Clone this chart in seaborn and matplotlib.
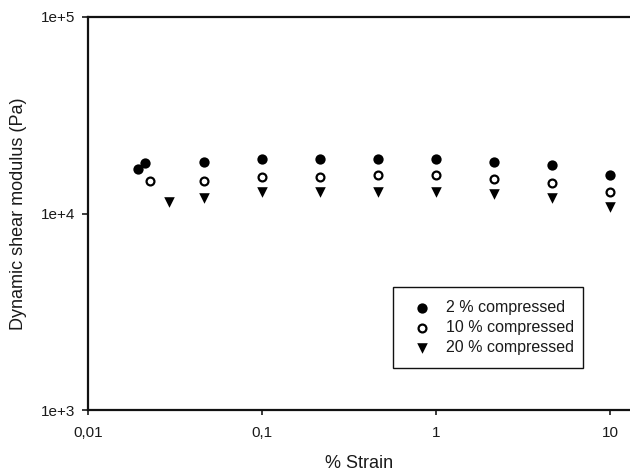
import matplotlib
matplotlib.use("Agg")
import matplotlib.pyplot as plt
import matplotlib.ticker as mticker
import seaborn as sns
import pandas as pd

# Strain sweep (% strain) and dynamic shear modulus (Pa) per compression level
strain_2 = [0.0194, 0.0213, 0.0464, 0.1, 0.215, 0.464, 1.0, 2.15, 4.64, 10.0]
modulus_2 = [16850, 18070, 18390, 18830, 18940, 19050, 19050, 18290, 17650, 15700]

strain_10 = [0.0227, 0.0464, 0.1, 0.215, 0.464, 1.0, 2.15, 4.64, 10.0]
modulus_10 = [14550, 14550, 15340, 15340, 15610, 15610, 15070, 14380, 12910]

strain_20 = [0.0292, 0.0464, 0.1, 0.215, 0.464, 1.0, 2.15, 4.64, 10.0]
modulus_20 = [11480, 12060, 12870, 12870, 12870, 12870, 12570, 11990, 10850]

series_labels = ["2 % compressed", "10 % compressed", "20 % compressed"]

x_ticks = [0.01, 0.1, 1, 10]
x_tick_labels = ["0,01", "0,1", "1", "10"]
y_ticks = [1e3, 1e4, 1e5]
y_tick_labels = ["1e+3", "1e+4", "1e+5"]

df = pd.concat([
    pd.DataFrame({"strain": strain_2, "modulus": modulus_2, "series": series_labels[0]}),
    pd.DataFrame({"strain": strain_10, "modulus": modulus_10, "series": series_labels[1]}),
    pd.DataFrame({"strain": strain_20, "modulus": modulus_20, "series": series_labels[2]}),
], ignore_index=True)

sns.set_style("ticks")
plt.rcParams["font.family"] = ["Liberation Sans", "DejaVu Sans"]
plt.rcParams["text.color"] = "#1a1a1a"
plt.rcParams["axes.labelcolor"] = "#1a1a1a"
plt.rcParams["xtick.color"] = "#1a1a1a"
plt.rcParams["ytick.color"] = "#1a1a1a"

fig = plt.figure(figsize=(6.3, 4.74), dpi=100)
ax = fig.add_axes([88 / 630, 1 - 410 / 474, 542 / 630, 393 / 474])

styles = {
    series_labels[0]: dict(marker="o", s=55, color="black", linewidth=0),
    series_labels[1]: dict(marker="o", s=32, color="white", edgecolor="black", linewidth=1.6),
    series_labels[2]: dict(marker="v", s=58, color="black", linewidth=0),
}
for name in series_labels:
    sub = df[df["series"] == name]
    sns.scatterplot(data=sub, x="strain", y="modulus", ax=ax, label=name,
                    zorder=3, **styles[name])

ax.set_xscale("log")
ax.set_yscale("log")
ax.set_xlim(0.01, 13.03)
ax.set_ylim(1e3, 1e5)

ax.xaxis.set_major_locator(mticker.FixedLocator(x_ticks))
ax.xaxis.set_major_formatter(mticker.FixedFormatter(x_tick_labels))
ax.yaxis.set_major_locator(mticker.FixedLocator(y_ticks))
ax.yaxis.set_major_formatter(mticker.FixedFormatter(y_tick_labels))
ax.xaxis.set_minor_locator(mticker.NullLocator())
ax.yaxis.set_minor_locator(mticker.NullLocator())

ax.tick_params(axis="x", direction="out", length=3.5, width=1.2, pad=8, labelsize=11)
ax.tick_params(axis="y", direction="out", length=4, width=1.2, pad=5, labelsize=11)

for side in ["left", "bottom", "top"]:
    ax.spines[side].set_visible(True)
    ax.spines[side].set_linewidth(1.6)
    ax.spines[side].set_color("#111111")
ax.spines["right"].set_visible(False)

ax.set_xlabel("% Strain", fontsize=13, labelpad=11)
ax.set_ylabel("Dynamic shear modulus (Pa)", fontsize=13, labelpad=10)

leg = ax.legend(loc="upper left",
                bbox_to_anchor=((393 - 88) / 542, (410 - 287) / 393, 190 / 542, 0.0),
                mode="expand", borderaxespad=0, fontsize=11.5, frameon=True,
                fancybox=False, shadow=False, borderpad=0.8, labelspacing=0.32,
                handlelength=2.0, handletextpad=0.5, scatterpoints=1)
leg.get_frame().set_edgecolor("#111111")
leg.get_frame().set_linewidth(1.0)
leg.get_frame().set_alpha(1)

fig.savefig("out.png", dpi=100)
